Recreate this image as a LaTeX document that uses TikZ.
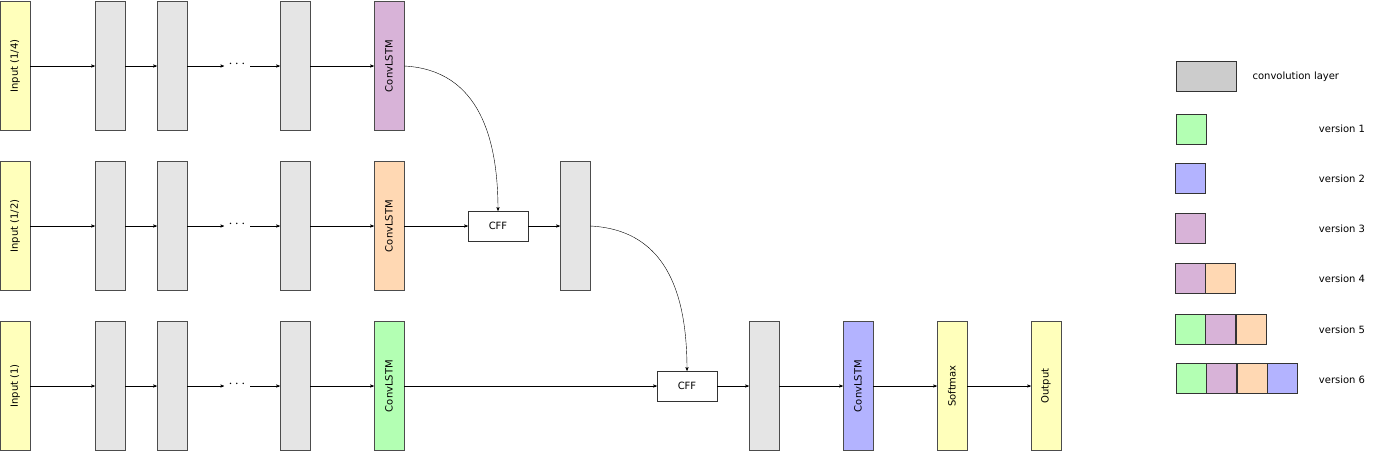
\documentclass[tikz,border=0pt]{standalone}
\usepackage{fontspec}
\setmainfont{DejaVu Sans}
\usetikzlibrary{arrows,positioning}
\definecolor{inyellow}{RGB}{255,255,187}
\definecolor{convgray}{RGB}{229,229,229}
\definecolor{legendgray}{RGB}{204,204,204}
\definecolor{vgreen}{RGB}{179,255,179}
\definecolor{vblue}{RGB}{179,179,255}
\definecolor{vpurple}{RGB}{216,179,216}
\definecolor{vorange}{RGB}{255,216,179}

\begin{document}
\begin{tikzpicture}[x=1pt, y=-1pt,
    layer/.style={draw=black!70, minimum width=30pt, minimum height=129pt, inner sep=0pt, font=\fontsize{10}{12}\selectfont},
    vert/.style={layer, rotate=90, minimum width=129pt, minimum height=30pt},
    cff/.style={draw=black!80, fill=white, minimum width=60pt, minimum height=30pt, inner sep=0pt, font=\fontsize{10}{12}\selectfont},
    sq/.style={draw=black!80, minimum size=30pt, inner sep=0pt},
    lbl/.style={font=\fontsize{10}{12}\selectfont},
    every path/.style={>=stealth'},
    conn/.style={draw, ->, thin}
]
\useasboundingbox (0,0) rectangle (1380,453);

% rows of layers
\foreach \r/\y/\lab/\col in {a/66/{Input (1/4)}/vpurple, b/226/{Input (1/2)}/vorange, c/386/{Input (1)}/vgreen} {
    \node[vert, fill=inyellow] (\r-in) at (15,\y) {\lab};
    \node[layer, fill=convgray] (\r-c1) at (110,\y) {};
    \node[layer, fill=convgray] (\r-c2) at (172,\y) {};
    \node[font=\Large\bfseries] (\r-dots) at (237,\y-2) {$\cdots$};
    \node[layer, fill=convgray] (\r-c3) at (295,\y) {};
    \node[vert, fill=\col] (\r-lstm) at (389,\y) {ConvLSTM};
    \draw[conn] (\r-in) -- (\r-c1);
    \draw[conn] (\r-c1) -- (\r-c2);
    \draw[conn] (\r-c2.east) -- (224,\y);
    \draw[conn] (250,\y) -- (\r-c3.west);
    \draw[conn] (\r-c3) -- (\r-lstm);
}

% fusion
\node[cff] (cff1) at (498,226) {CFF};
\node[layer, fill=convgray] (mid) at (575,226) {};
\node[cff] (cff2) at (687,386) {CFF};
\node[layer, fill=convgray] (post) at (764,386) {};
\node[vert, fill=vblue] (lstm) at (858,386) {ConvLSTM};
\node[vert, fill=inyellow] (soft) at (952,386) {Softmax};
\node[vert, fill=inyellow] (out) at (1046,386) {Output};

\draw[conn] (b-lstm) -- (cff1);
\draw[conn] (cff1) -- (mid);
\draw[conn] (a-lstm.south) .. controls (480,70) and (498,140) .. (cff1.north);
\draw[conn] (mid.east) .. controls (670,230) and (687,300) .. (cff2.north);
\draw[conn] (c-lstm) -- (cff2);
\draw[conn] (cff2) -- (post);
\draw[conn] (post) -- (lstm);
\draw[conn] (lstm) -- (soft);
\draw[conn] (soft) -- (out);

% legend
\node[sq, minimum width=60pt, fill=legendgray] (lg) at (1206,76) {};
\node[lbl, anchor=west] (lgt) at (1249,77) {convolution layer};
\node[sq, fill=vgreen] (l1) at (1191,129) {};
\node[sq, fill=vblue] (l2) at (1190,178) {};
\node[sq, fill=vpurple] (l3) at (1190,228) {};
\node[sq, fill=vpurple] (l4a) at (1190,278) {};
\node[sq, fill=vorange, right=0pt of l4a] (l4b) {};
\node[sq, fill=vgreen] (l5a) at (1190,329) {};
\node[sq, fill=vpurple, right=0pt of l5a] (l5b) {};
\node[sq, fill=vorange, right=0pt of l5b] (l5c) {};
\node[sq, fill=vgreen] (l6a) at (1191,378) {};
\node[sq, fill=vpurple, right=0pt of l6a] (l6b) {};
\node[sq, fill=vorange, right=0pt of l6b] (l6c) {};
\node[sq, fill=vblue, right=0pt of l6c] (l6d) {};
\foreach \i/\y in {1/129, 2/179, 3/229, 4/279, 5/330, 6/380}
    \node[lbl] (v\i) at (1342,\y) {version \i};
\end{tikzpicture}
\end{document}
